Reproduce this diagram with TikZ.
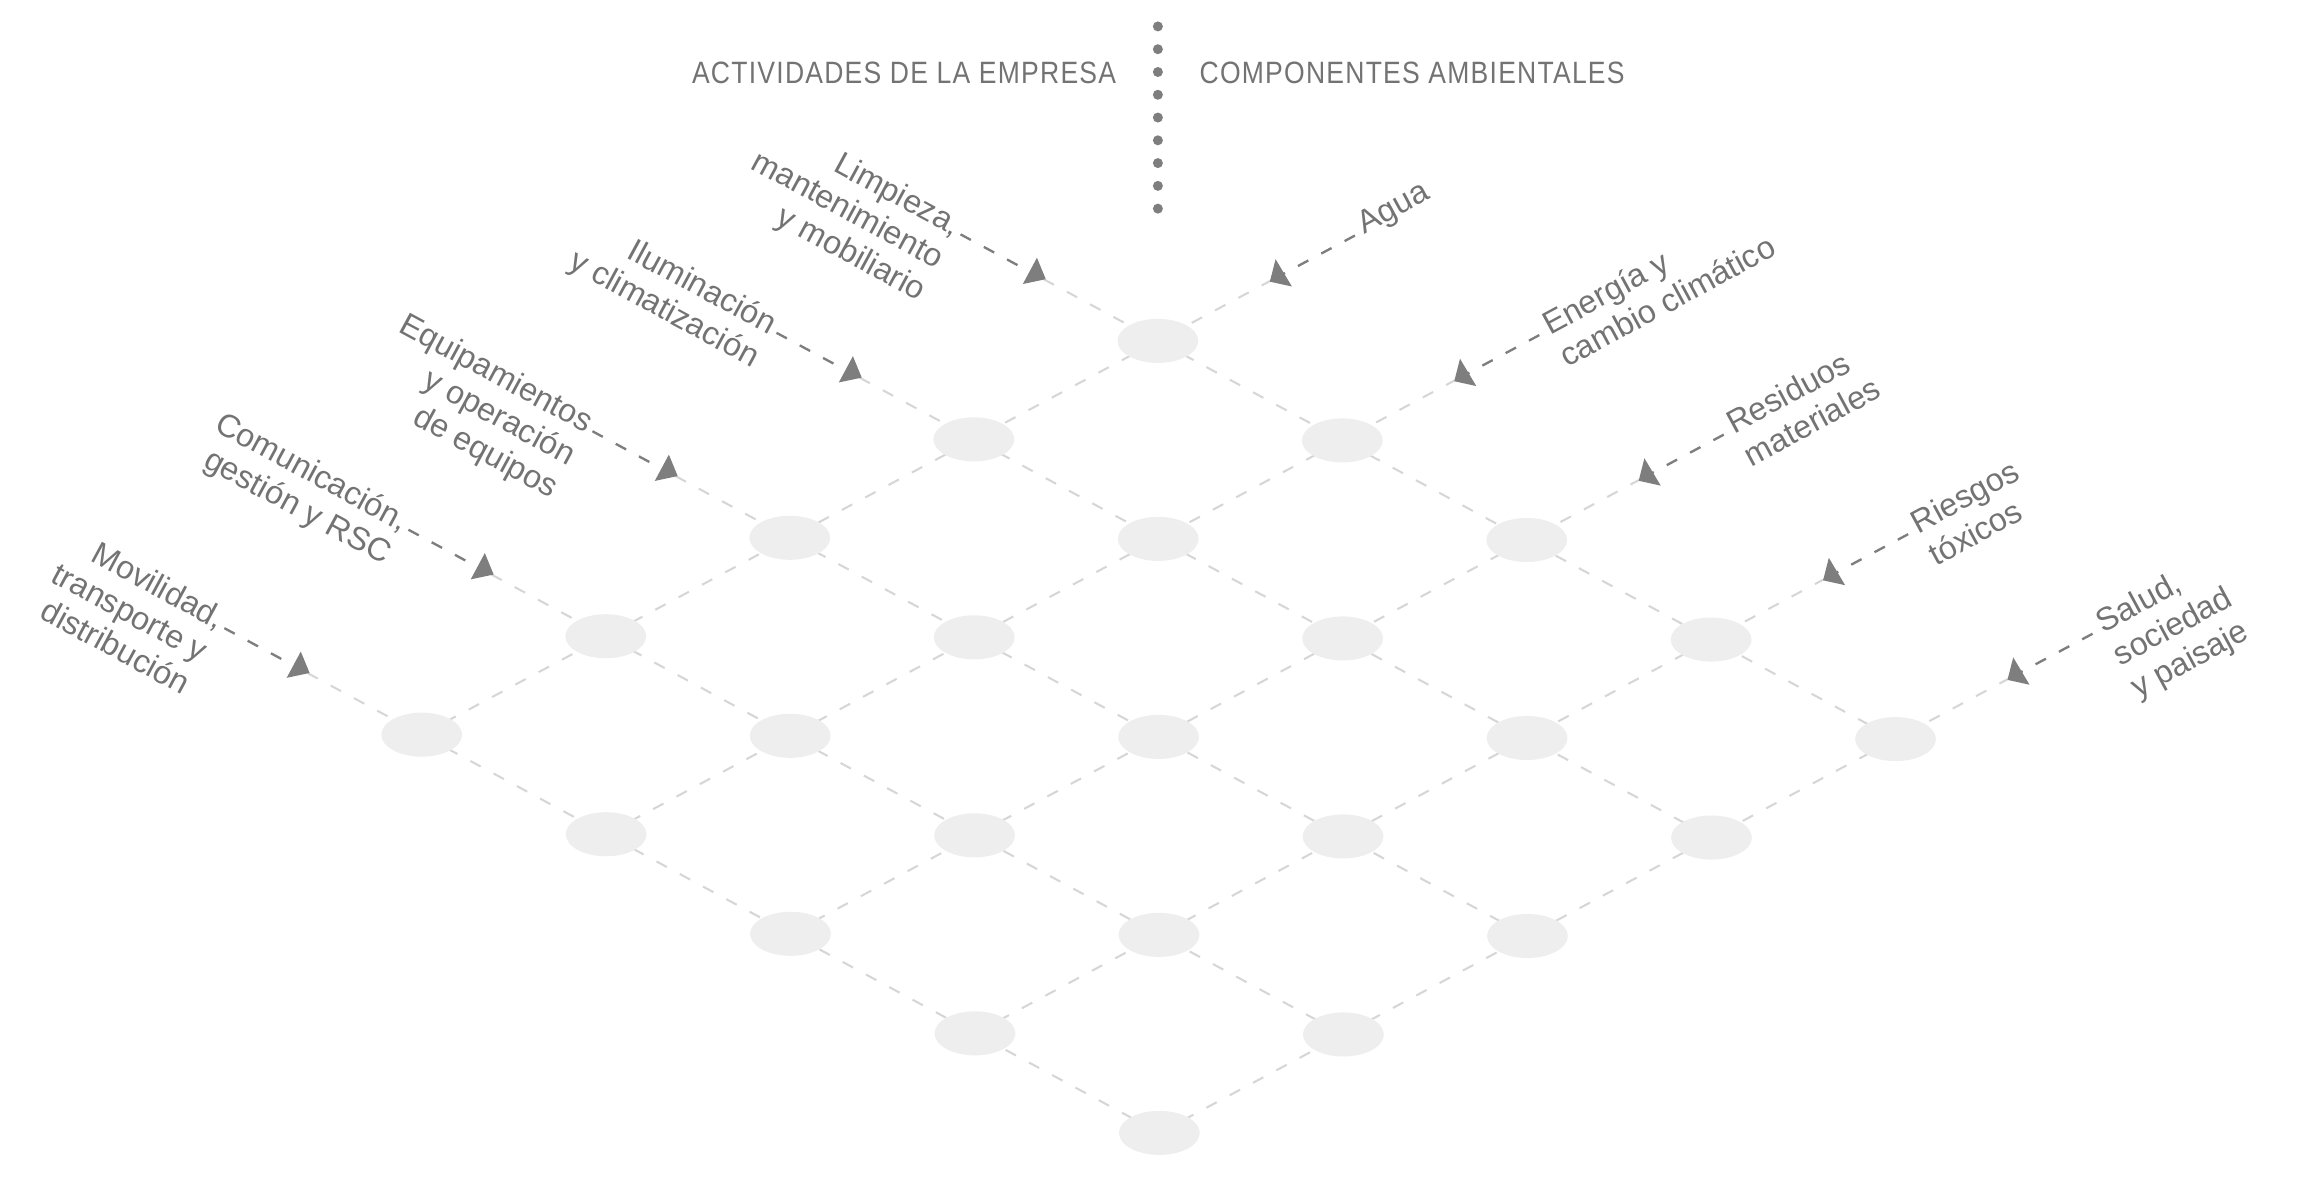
\documentclass[tikz,border=0pt]{standalone}
\usepackage{fontspec}
\setmainfont{Liberation Sans}
\newfontfamily\cond[FakeStretch=0.86,LetterSpace=4]{Liberation Sans}
\usetikzlibrary{calc,shapes.geometric}
\definecolor{txt}{HTML}{737373}
\definecolor{faint}{HTML}{D6D6D6}
\definecolor{dark}{HTML}{7E7E7E}
\definecolor{ell}{HTML}{EEEEEE}
\tikzset{
  cell/.style={ellipse, fill=ell, minimum width=27.5pt, minimum height=15pt, inner sep=0pt},
  gridline/.style={faint, dash pattern=on 4pt off 5pt, line width=0.7pt},
  darkline/.style={dark, dash pattern=on 4pt off 5pt, line width=0.8pt},
  lbl/.style={text=txt, font=\fontsize{11}{12.6}\selectfont, inner sep=0pt},
  title/.style={text=txt, font=\cond\fontsize{10.5}{12}\selectfont, inner sep=0pt},
  tip/.style={fill=dark, draw=none}
}
\begin{document}
\begin{tikzpicture}[x=0.5pt,y=-0.5pt]
\useasboundingbox (0,0) rectangle (1568,805.8);
% dots and titles
\foreach \k in {0,...,8} \fill[dark] (788,{18+15.5*\k}) circle (3.4);
\node[title, anchor=base east] (t1) at (760,57) {ACTIVIDADES DE LA EMPRESA};
\node[title, anchor=base west] (t2) at (816,57) {COMPONENTES AMBIENTALES};
% grid coordinates
\foreach \i in {0,...,4}{\foreach \j in {0,...,4}{
  \coordinate (n-\i-\j) at ({788-125.25*\i+125.5*\j},{232+67*\i+67.75*\j});
}}
% arrow points
\foreach \i in {0,...,4}{
  \coordinate (pa-\i) at ($(n-\i-0)+(-77.8,-42)$);
  \coordinate (qa-\i) at ($(pa-\i)+(-56.5,-30.5)$);
  \coordinate (pc-\i) at ($(n-0-\i)+(77.7,-41.5)$);
  \coordinate (qc-\i) at ($(pc-\i)+(56.4,-30.2)$);
  \draw[gridline] (pa-\i) -- (n-\i-4);
  \draw[gridline] (pc-\i) -- (n-4-\i);
  \draw[darkline] (qa-\i) -- (pa-\i);
  \draw[darkline] (qc-\i) -- (pc-\i);
  \fill[tip] ($(pa-\i)+(-4.5,-14.6)$) -- ($(pa-\i)+(-14.1,3.3)$) -- ($(pa-\i)+(1.5,0)$) -- cycle;
  \fill[tip] ($(pc-\i)+(2.4,-14.1)$) -- ($(pc-\i)+(-1.5,1.2)$) -- ($(pc-\i)+(13.5,4.5)$) -- cycle;
}
% cells
\foreach \i in {0,...,4}{\foreach \j in {0,...,4}{
  \node[cell] (c-\i-\j) at (n-\i-\j) {};
}}
% activity labels
\tikzset{albl/.style={lbl, rotate=-28.4, yshift=6.5pt, xshift=-1.5pt, anchor=north east, align=right},
         blbl/.style={lbl, rotate=28.4, yshift=6.5pt, xshift=3pt, anchor=north west, align=left}}
\node[albl] (a0) at (qa-0) {Limpieza,\\mantenimiento\\y mobiliario};
\node[albl] (a1) at (qa-1) {Iluminación\\y climatización};
\node[albl] (a2) at (qa-2) {Equipamientos\\y operación\\de equipos};
\node[albl] (a3) at (qa-3) {Comunicación,\\gestión y RSC};
\node[albl] (a4) at (qa-4) {Movilidad,\\transporte y\\distribución};
% component labels
\node[blbl] (b0) at (qc-0) {Agua};
\node[blbl] (b1) at (qc-1) {Energía y\\cambio climático};
\node[blbl] (b2) at (qc-2) {Residuos\\materiales};
\node[blbl] (b3) at (qc-3) {Riesgos\\tóxicos};
\node[blbl] (b4) at (qc-4) {Salud,\\sociedad\\y paisaje};
\end{tikzpicture}
\end{document}
